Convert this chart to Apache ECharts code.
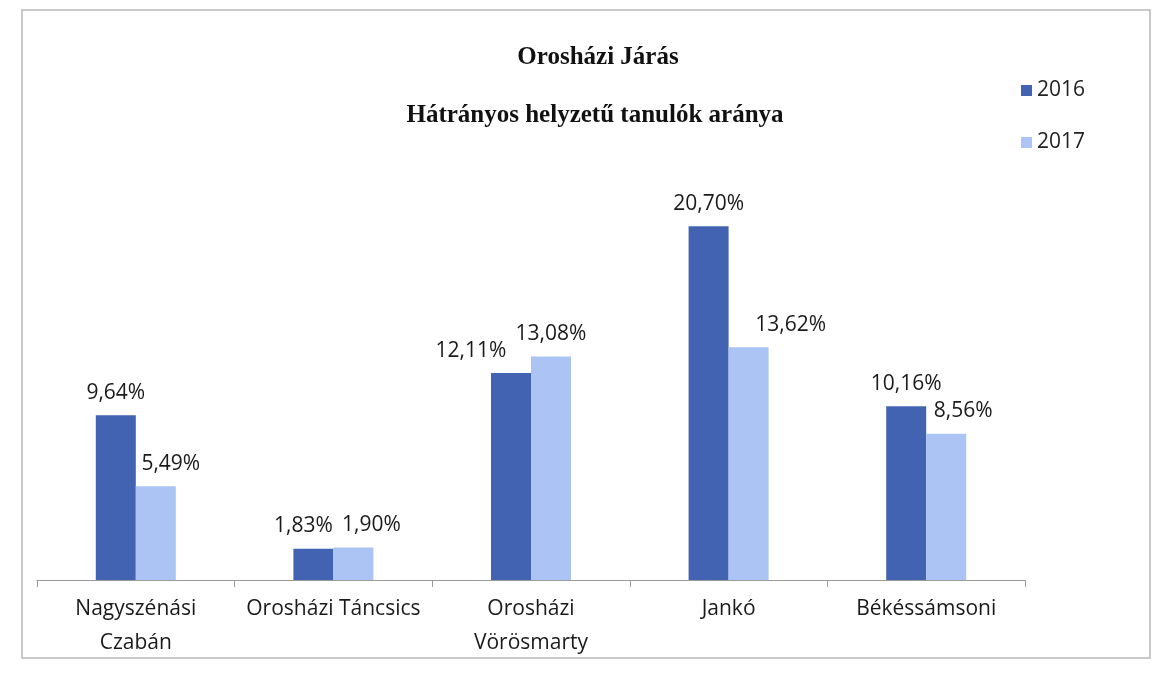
<!DOCTYPE html>
<html>
<head>
<meta charset="utf-8">
<script src="https://cdn.jsdelivr.net/npm/echarts@6/dist/echarts.min.js"></script>
<style>
  html, body { margin: 0; padding: 0; background: #fff; }
  #main { width: 1163px; height: 681px; }
</style>
</head>
<body>
<div id="main"></div>
<script>
const categories = ["Nagyszénási\nCzabán", "Orosházi Táncsics", "Orosházi\nVörösmarty", "Jankó", "Békéssámsoni"];
const values2016 = [9.64, 1.83, 12.11, 20.70, 10.16];
const values2017 = [5.49, 1.90, 13.08, 13.62, 8.56];
const seriesNames = ["2016", "2017"];

// label nudges like Excel did to keep the labels apart
const shift2016 = [0, -10, -40, 0, 0];
const shift2017 = [15, 18, 0, 42, 17];

const labelFont = "'Open Sans', 'Noto Sans', sans-serif";
const titleFont = "'Liberation Serif', 'DejaVu Serif', serif";
const pct = p => p.value.toFixed(2).replace(".", ",") + "%";

function withLabels(values, shifts) {
  return values.map((v, i) => ({ value: v, label: { offset: [shifts[i], 0] } }));
}

const chart = echarts.init(document.getElementById("main"));
chart.setOption({
  backgroundColor: "#fff",
  animation: false,
  title: [
    {
      text: "Orosházi Járás",
      left: 593, top: 40, textAlign: "center",
      textStyle: { fontFamily: titleFont, fontWeight: "bold", fontSize: 25, color: "#111" }
    },
    {
      text: "Hátrányos helyzetű tanulók aránya",
      left: 590, top: 98, textAlign: "center",
      textStyle: { fontFamily: titleFont, fontWeight: "bold", fontSize: 25, color: "#111" }
    }
  ],
  legend: {
    orient: "vertical",
    left: 1016, top: 75,
    itemWidth: 11, itemHeight: 11, itemGap: 31,
    icon: "rect",
    textStyle: { fontFamily: labelFont, fontSize: 21, color: "#222" },
    data: seriesNames
  },
  graphic: [{
    type: "rect",
    shape: { x: 22, y: 10, width: 1128, height: 648 },
    style: { fill: "none", stroke: "#b8b8b8", lineWidth: 1.5 }
  }],
  grid: { left: 37, right: 138, top: 204, bottom: 101 },
  xAxis: {
    type: "category",
    data: categories,
    axisLine: { lineStyle: { color: "#9a9a9a", width: 1.2 } },
    axisTick: { show: true, length: 7, lineStyle: { color: "#9a9a9a" } },
    axisLabel: {
      interval: 0, hideOverlap: false,
      margin: 12, fontFamily: labelFont, fontSize: 21, color: "#1a1a1a", lineHeight: 34
    }
  },
  yAxis: {
    type: "value", min: 0, max: 22,
    show: false,
    splitLine: { show: false }
  },
  series: [
    {
      name: seriesNames[0], type: "bar", data: withLabels(values2016, shift2016),
      barWidth: 40, barGap: "0%",
      itemStyle: { color: "#4262b2" },
      label: { show: true, position: "top", distance: 12, formatter: pct, fontFamily: labelFont, fontSize: 21, color: "#1a1a1a" }
    },
    {
      name: seriesNames[1], type: "bar", data: withLabels(values2017, shift2017),
      barWidth: 40,
      itemStyle: { color: "#abc4f4" },
      label: { show: true, position: "top", distance: 12, formatter: pct, fontFamily: labelFont, fontSize: 21, color: "#1a1a1a" }
    }
  ]
});
</script>
</body>
</html>
